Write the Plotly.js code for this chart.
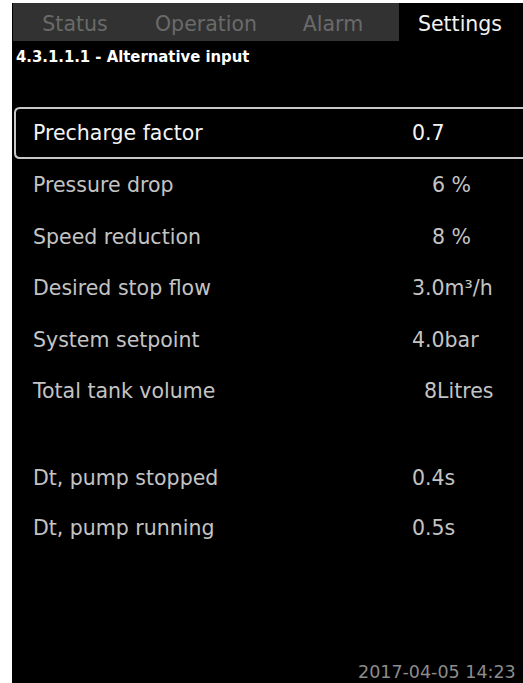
<!DOCTYPE html>
<html><head><meta charset="utf-8">
<script src="https://cdn.plot.ly/plotly-3.0.1.min.js"></script>
<style>html,body{margin:0;padding:0;background:#fff;}#chart{width:523px;height:683px;}</style>
</head><body><div id="chart"></div>
<script>
// ---- data ----
const tabs = ["Status", "Operation", "Alarm", "Settings"];
const activeTab = "Settings";
const menuTitle = "4.3.1.1.1 - Alternative input";
const paramNames = ["Precharge factor", "Pressure drop", "Speed reduction", "Desired stop flow",
  "System setpoint", "Total tank volume", "Dt, pump stopped", "Dt, pump running"];
const paramValues = ["0.7", "6 %", "8 %", "3.0m³/h", "4.0bar", "8Litres", "0.4s", "0.5s"];
const selectedParam = "Precharge factor";
const timestamp = "2017-04-05 14:23";

// ---- layout constants (pixel positions) ----
const tabX = [75, 206, 333, 460];
const rowY = [135, 187, 239, 290, 342, 393, 480, 530];
const valueX = [412, 432, 432, 412, 412, 424, 412, 412];
const FONT = "DejaVu Sans, sans-serif";

const traces = [];
// tab labels
traces.push({
  type: "scatter", mode: "text", x: tabX, y: tabs.map(() => 26), text: tabs,
  textposition: "middle center", hoverinfo: "skip",
  textfont: {family: FONT, size: 20.5, color: tabs.map(t => t === activeTab ? "#f2f2f2" : "#6a6a6a")}
});
// parameter names
traces.push({
  type: "scatter", mode: "text", x: paramNames.map(() => 33), y: rowY, text: paramNames,
  textposition: "middle right", hoverinfo: "skip",
  textfont: {family: FONT, size: 20.5, color: paramNames.map(n => n === selectedParam ? "#f4f4f4" : "#c4c4c4")}
});
// parameter values
traces.push({
  type: "scatter", mode: "text", x: valueX, y: rowY, text: paramValues,
  textposition: "middle right", hoverinfo: "skip",
  textfont: {family: FONT, size: 20.5, color: paramNames.map(n => n === selectedParam ? "#f4f4f4" : "#c4c4c4")}
});

const shapes = [
  {type: "rect", xref: "x", yref: "y", x0: 12, x1: 530, y0: 3, y1: 690, fillcolor: "#000", line: {width: 0}, layer: "below"},
  {type: "rect", xref: "x", yref: "y", x0: 13, x1: 399, y0: 3, y1: 41, fillcolor: "#323232", line: {width: 0}, layer: "below"},
  {type: "path", xref: "x", yref: "y",
   path: "M 530,108 L 20,108 Q 15,108 15,113 L 15,153 Q 15,158 20,158 L 530,158",
   line: {color: "#c8c8c8", width: 2}, fillcolor: "rgba(0,0,0,0)", layer: "below"}
];

const annotations = [
  {xref: "x", yref: "y", x: 14, y: 56, text: "<b>" + menuTitle + "</b>", showarrow: false,
   xanchor: "left", yanchor: "middle", font: {family: "DejaVu Sans Condensed, DejaVu Sans, sans-serif", size: 16.5, color: "#ffffff"}},
  {xref: "x", yref: "y", x: 356, y: 672, text: timestamp, showarrow: false,
   xanchor: "left", yanchor: "middle", font: {family: FONT, size: 17.5, color: "#8c8c8c"}}
];

const layout = {
  width: 523, height: 683, margin: {l: 0, r: 0, t: 0, b: 0},
  paper_bgcolor: "#ffffff", plot_bgcolor: "rgba(0,0,0,0)", showlegend: false,
  xaxis: {range: [0, 523], visible: false, fixedrange: true},
  yaxis: {range: [683, 0], visible: false, fixedrange: true},
  shapes: shapes, annotations: annotations
};
Plotly.newPlot("chart", traces, layout, {displayModeBar: false, staticPlot: true});
</script></body></html>
